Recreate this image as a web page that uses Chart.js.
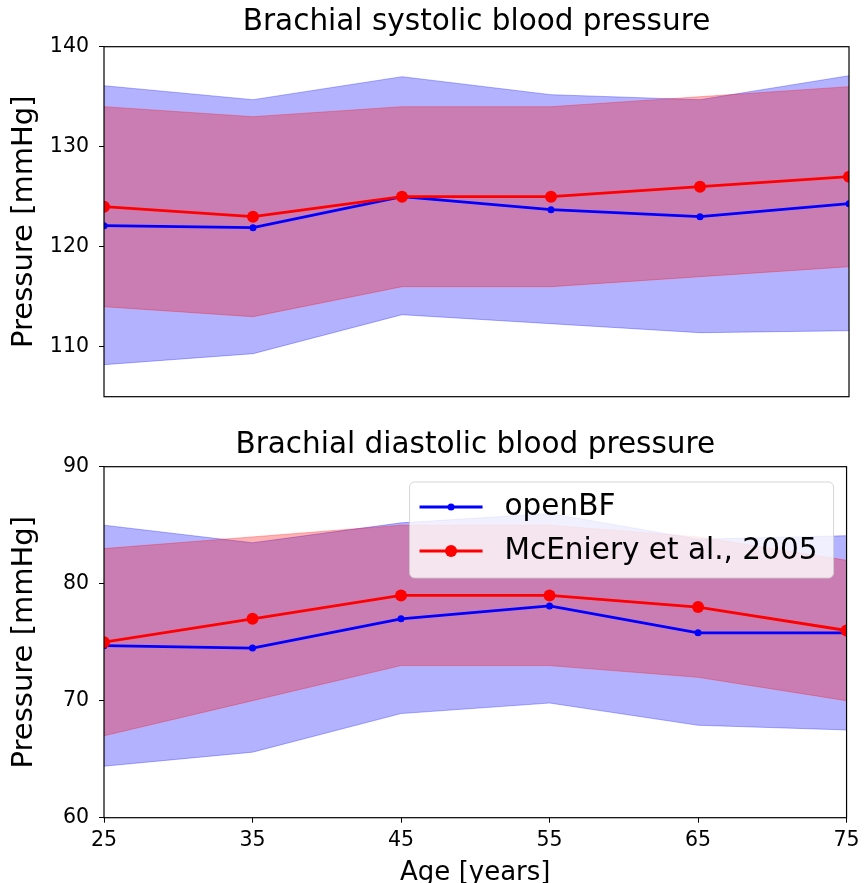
<!DOCTYPE html>
<html>
<head>
<meta charset="utf-8">
<script src="https://cdn.jsdelivr.net/npm/chart.js@4.4.1/dist/chart.umd.min.js"></script>
<style>
  html, body { margin: 0; padding: 0; background: #fff; overflow: hidden; }
  canvas { position: absolute; left: 0; }
  #sys-chart { top: 0; }
  #dia-chart { top: 420px; }
</style>
</head>
<body>
<canvas id="sys-chart" width="865" height="420"></canvas>
<canvas id="dia-chart" width="865" height="480"></canvas>
<script>
const ages = [25, 35, 45, 55, 65, 75];
const ageTicks = [25, 35, 45, 55, 65, 75];

// brachial systolic
const sysModel = [122.1, 121.9, 125.0, 123.7, 123.0, 124.3];
const sysModelUpper = [136.1, 134.7, 137.0, 135.2, 134.7, 137.1];
const sysModelLower = [108.2, 109.3, 113.2, 112.3, 111.4, 111.6];
const sysRef = [124, 123, 125, 125, 126, 127];
const sysRefUpper = [134, 133, 134, 134, 135, 136];
const sysRefLower = [114, 113, 116, 116, 117, 118];
const sysTicks = [110, 120, 130, 140];

// brachial diastolic
const diaModel = [74.7, 74.5, 77.0, 78.1, 75.8, 75.8];
const diaModelUpper = [85.0, 83.5, 85.2, 86.0, 83.8, 84.1];
const diaModelLower = [64.4, 65.6, 68.9, 69.8, 67.9, 67.5];
const diaRef = [75, 77, 79, 79, 78, 76];
const diaRefUpper = [83, 84, 85, 85, 84, 82];
const diaRefLower = [67, 70, 73, 73, 72, 70];
const diaTicks = [60, 70, 80, 90];

Chart.defaults.font.family = "'DejaVu Sans'";
Chart.defaults.color = '#000';

// black box round the plot area, like matplotlib spines
const frame = {
  id: 'frame',
  afterDraw(chart) {
    const { ctx, chartArea: a } = chart;
    ctx.save();
    ctx.strokeStyle = '#000';
    ctx.lineWidth = 1.2;
    ctx.strokeRect(a.left, a.top, a.right - a.left, a.bottom - a.top);
    ctx.restore();
  }
};

// legend box inside the plot (line + marker + label)
const boxLegend = {
  id: 'boxLegend',
  afterDraw(chart, args, opts) {
    if (!opts.show) return;
    const { ctx, chartArea: a } = chart;
    const items = chart.data.datasets.filter(d => d.inLegend);
    const w = 424, h = 96;
    const x = a.right - 13 - w, y = a.top + 15.3;
    ctx.save();
    ctx.beginPath();
    ctx.roundRect(x, y, w, h, 5);
    ctx.fillStyle = 'rgba(255,255,255,0.8)';
    ctx.fill();
    ctx.strokeStyle = 'rgba(204,204,204,0.8)';
    ctx.lineWidth = 1;
    ctx.stroke();
    ctx.font = "29.5px 'DejaVu Sans'";
    ctx.textBaseline = 'middle';
    items.forEach((d, i) => {
      const cy = y + 25 + i * 44;
      ctx.strokeStyle = d.borderColor;
      ctx.lineWidth = d.borderWidth;
      ctx.beginPath();
      ctx.moveTo(x + 10, cy);
      ctx.lineTo(x + 73, cy);
      ctx.stroke();
      ctx.fillStyle = d.pointBackgroundColor;
      ctx.beginPath();
      ctx.arc(x + 41.5, cy, d.pointRadius, 0, Math.PI * 2);
      ctx.fill();
      ctx.fillStyle = '#000';
      ctx.fillText(d.label, x + 95, cy);
    });
    ctx.restore();
  }
};

function makeSets(model, modelLo, modelHi, ref, refLo, refHi) {
  const pts = vals => ages.map((a, i) => ({ x: a, y: vals[i] }));
  return [
    { data: pts(modelHi), fill: '+1', borderColor: 'rgba(0,0,255,0.3)', backgroundColor: 'rgba(0,0,255,0.3)',
      borderWidth: 1, pointRadius: 0, order: 5 },
    { data: pts(modelLo), fill: false, borderColor: 'rgba(0,0,255,0.3)', borderWidth: 1, pointRadius: 0, order: 5 },
    { data: pts(refHi), fill: '+1', borderColor: 'rgba(255,0,0,0.3)', backgroundColor: 'rgba(255,0,0,0.3)',
      borderWidth: 1, pointRadius: 0, order: 4 },
    { data: pts(refLo), fill: false, borderColor: 'rgba(255,0,0,0.3)', borderWidth: 1, pointRadius: 0, order: 4 },
    { label: 'openBF', data: pts(model), borderColor: '#0000ff', pointBackgroundColor: '#0000ff',
      borderWidth: 2.8, pointRadius: 3.5, pointBorderWidth: 0, order: 2, clip: 0, inLegend: true },
    { label: 'McEniery et al., 2005', data: pts(ref), borderColor: '#ff0000', pointBackgroundColor: '#ff0000',
      borderWidth: 2.8, pointRadius: 6, pointBorderWidth: 0, order: 1, clip: 0, inLegend: true }
  ];
}

const tickGrid = { display: true, drawOnChartArea: false, drawTicks: true, tickLength: 5, tickColor: '#000', tickWidth: 1 };

function makeChart(id, cfg) {
  return new Chart(document.getElementById(id).getContext('2d'), {
    type: 'line',
    data: { datasets: cfg.datasets },
    options: {
      responsive: false,
      animation: false,
      events: [],
      layout: { padding: { left: 0, right: 16, top: 0, bottom: 0 } },
      plugins: {
        legend: { display: false },
        tooltip: { enabled: false },
        title: { display: true, text: cfg.title, color: '#000', font: { size: 29.5, weight: 'normal' },
                 fullSize: false, padding: cfg.titlePad },
        boxLegend: { show: cfg.legend }
      },
      elements: { line: { tension: 0 } },
      scales: {
        x: {
          type: 'linear', min: 25, max: 75,
          afterBuildTicks: s => { s.ticks = ageTicks.map(v => ({ value: v })); },
          afterFit: s => { s.height = cfg.xHeight; },
          ticks: { display: cfg.xLabels, font: { size: 20.5 }, color: '#000', padding: 5.4, maxRotation: 0 },
          grid: cfg.xLabels ? tickGrid : { display: false },
          border: { display: false },
          title: { display: cfg.xLabels, text: 'Age [years]', color: '#000', font: { size: 26 },
                   padding: { top: 0, bottom: 11.4 } }
        },
        y: {
          type: 'linear', min: cfg.yMin, max: cfg.yMax,
          afterBuildTicks: s => { s.ticks = cfg.yTicks.map(v => ({ value: v })); },
          afterFit: s => { s.width = 104; },
          ticks: { font: { size: 20.5 }, color: '#000', padding: 10 },
          grid: tickGrid,
          border: { display: false },
          title: { display: true, text: 'Pressure [mmHg]', color: '#000', font: { size: 29 },
                   padding: { top: 6.6, bottom: 0 } }
        }
      }
    },
    plugins: [frame, boxLegend]
  });
}

makeChart('sys-chart', {
  title: 'Brachial systolic blood pressure',
  titlePad: { top: 5.1, bottom: 6.2 },
  datasets: makeSets(sysModel, sysModelLower, sysModelUpper, sysRef, sysRefLower, sysRefUpper),
  yMin: 105, yMax: 140, yTicks: sysTicks,
  xLabels: false, xHeight: 23.3, legend: false
});

makeChart('dia-chart', {
  title: 'Brachial diastolic blood pressure',
  titlePad: { top: 8.1, bottom: 3.2 },
  datasets: makeSets(diaModel, diaModelLower, diaModelUpper, diaRef, diaRefLower, diaRefUpper),
  yMin: 60, yMax: 90, yTicks: diaTicks,
  xLabels: true, xHeight: 82.3, legend: true
});
</script>
</body>
</html>
